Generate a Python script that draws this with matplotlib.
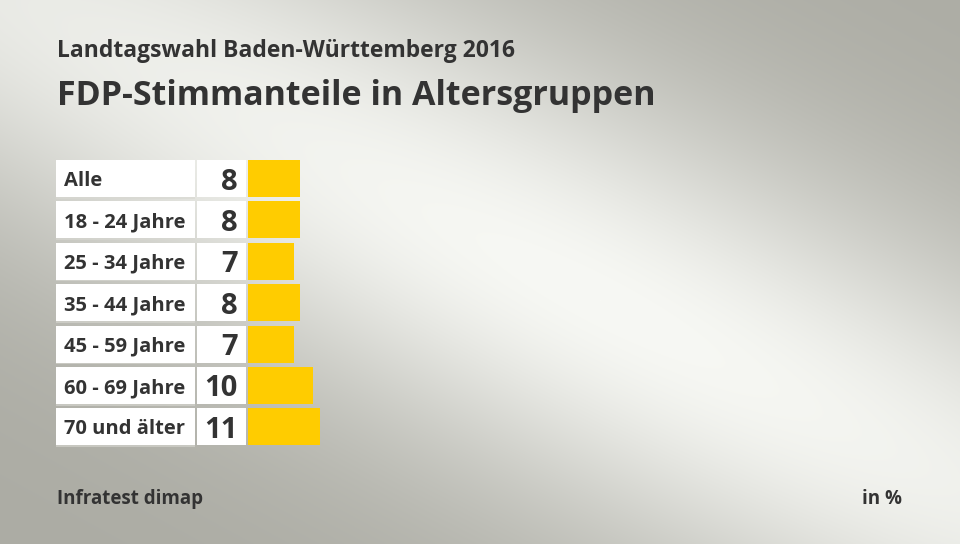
import numpy as np
import matplotlib
matplotlib.use("Agg")
import matplotlib.pyplot as plt
from matplotlib.patches import Rectangle

categories = ["Alle", "18 - 24 Jahre", "25 - 34 Jahre", "35 - 44 Jahre",
              "45 - 59 Jahre", "60 - 69 Jahre", "70 und älter"]
values = [8, 8, 7, 8, 7, 10, 11]
subtitle = "Landtagswahl Baden-Württemberg 2016"
title = "FDP-Stimmanteile in Altersgruppen"
source = "Infratest dimap"
unit = "in %"

W, H = 960, 544
fig = plt.figure(figsize=(W / 100, H / 100), dpi=100)
ax = fig.add_axes([0, 0, 1, 1])
ax.set_xlim(0, W)
ax.set_ylim(H, 0)
ax.axis("off")

# background: diagonal light band
yy, xx = np.mgrid[0:H, 0:W]
dx, dy = 1.0, 0.52
n = np.hypot(dx, dy)
cx, cy = 600, 300
perp = ((xx - cx) * (-dy) + (yy - cy) * dx) / n
along = ((xx - cx) * dx + (yy - cy) * dy) / n
f = np.exp(-(perp / 210) ** 2) * (0.75 + 0.25 * np.exp(-(along / 600) ** 2))
gray = np.array([172, 172, 164]) / 255
light = np.array([247, 248, 244]) / 255
img = gray + (light - gray) * f[..., None]
ax.imshow(img, extent=[0, W, H, 0], aspect="auto", zorder=0)

fam = ["Open Sans", "DejaVu Sans"]
dark = "#333333"

ax.text(57, 57, subtitle, fontsize=16.5, fontweight="bold", color=dark,
        family=fam, va="baseline", ha="left")
ax.text(57, 105, title, fontsize=24.5, fontweight="bold", color=dark,
        family=fam, va="baseline", ha="left")

row_top0 = 160
row_step = 41.4
row_h = 37
centers = [row_top0 + row_h / 2 + i * row_step for i in range(len(values))]
px_per_unit = 6.5

for i, (c, v) in enumerate(zip(categories, values)):
    yc = centers[i]
    ax.add_patch(Rectangle((56, yc - row_h / 2 + 1.5), 139, row_h,
                           facecolor="#d8d8d2", edgecolor="none", zorder=1, alpha=0.6))
    ax.add_patch(Rectangle((56, yc - row_h / 2), 139, row_h,
                           facecolor="white", edgecolor="none", zorder=2))
    ax.add_patch(Rectangle((197, yc - row_h / 2), 49, row_h,
                           facecolor="white", edgecolor="none", zorder=2))
    ax.text(64, yc + 2.5, c, fontsize=14.5, fontweight="bold", color=dark,
            family=fam, va="center", ha="left", zorder=3)
    ax.text(238, yc + 3.5, str(v), fontsize=21, fontweight="bold", color=dark,
            family=fam, va="center", ha="right", zorder=3)

ax.barh(centers, [v * px_per_unit for v in values], height=row_h, left=248,
        color="#ffcc00", zorder=2)

ax.text(57, 504, source, fontsize=13.5, fontweight="bold", color=dark,
        family=fam, va="baseline", ha="left")
ax.text(902, 504, unit, fontsize=13.5, fontweight="bold", color=dark,
        family=fam, va="baseline", ha="right")

fig.savefig("out.png", dpi=100)
